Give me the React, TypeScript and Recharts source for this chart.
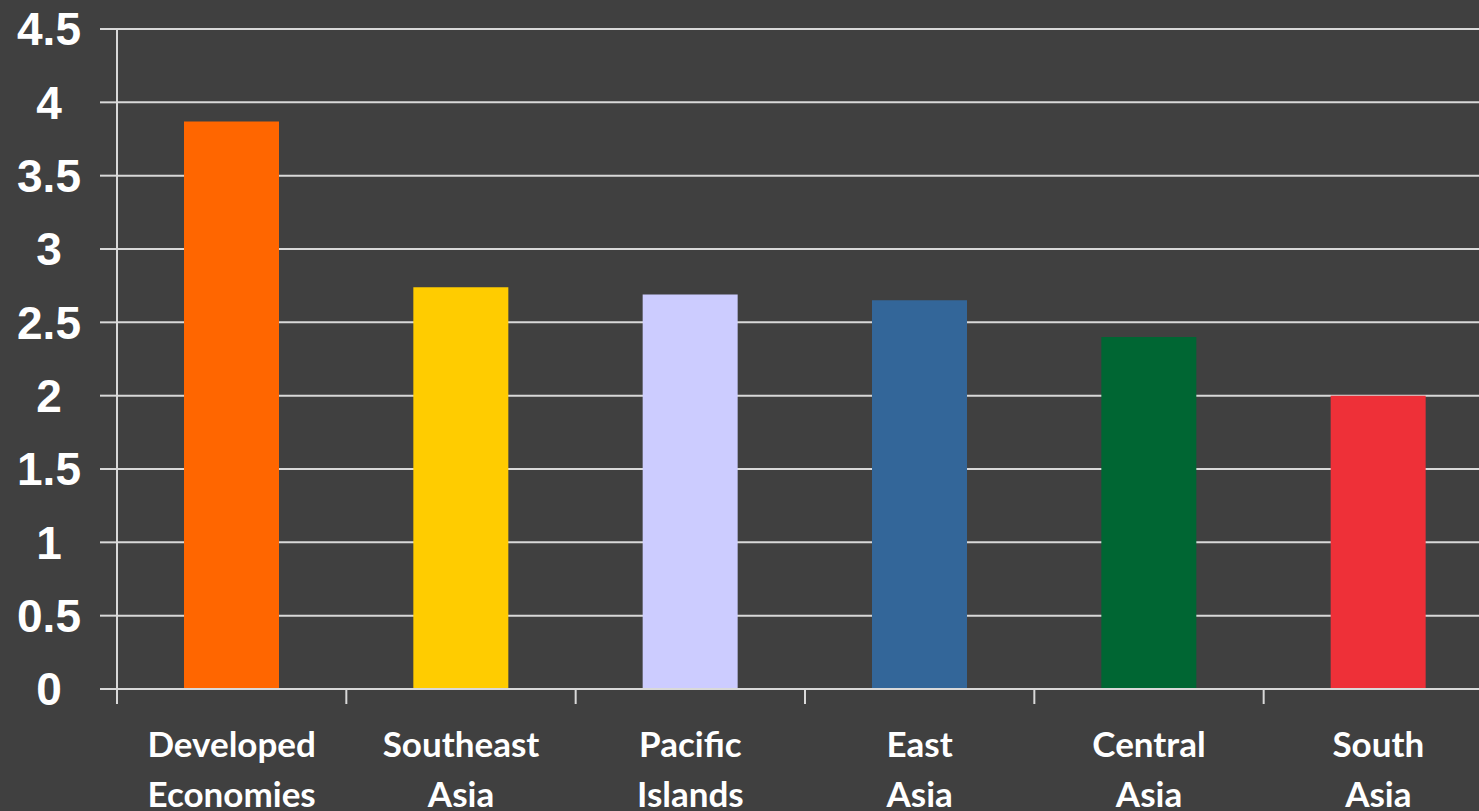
import React from 'react';
import { BarChart, Bar, XAxis, YAxis, CartesianGrid, Cell } from 'recharts';

// values
const regions = ['Developed Economies', 'Southeast Asia', 'Pacific Islands', 'East Asia', 'Central Asia', 'South Asia'];
const values = [3.87, 2.74, 2.69, 2.65, 2.4, 2.0];
const yTicks = [0, 0.5, 1, 1.5, 2, 2.5, 3, 3.5, 4, 4.5];

const barColors = ['#ff6600', '#ffcc00', '#ccccff', '#336699', '#006633', '#ee3038'];
const gridColor = '#d9d9d9';

const chartData = regions.map((name, i) => ({ name, value: values[i] }));

// label in two lines + a tick mark on the left edge of each category
const RegionTick = ({ x, y, payload, width, visibleTicksCount }: any) => {
    const [first, ...rest] = String(payload.value).split(' ');
    const half = payload.offset || (width && visibleTicksCount ? width / visibleTicksCount / 2 : 0);
    const last = payload.index === regions.length - 1;
    return (
        <g>
            <line x1={x - half} x2={x - half} y1={y} y2={y + 15} stroke={gridColor} strokeWidth={2} />
            {last && <line x1={x + half} x2={x + half} y1={y} y2={y + 15} stroke={gridColor} strokeWidth={2} />}
            <text
                x={x}
                y={y}
                textAnchor="middle"
                fill="#ffffff"
                fontFamily="Lato, 'Open Sans', sans-serif"
                fontWeight={700}
                fontSize={35}
            >
                <tspan x={x} dy={68}>{first}</tspan>
                <tspan x={x} dy={50}>{rest.join(' ')}</tspan>
            </text>
        </g>
    );
};

const App: React.FC = () => {
    return (
        <div
            style={{
                position: 'fixed',
                left: 0,
                top: 0,
                width: 1479,
                height: 811,
                overflow: 'hidden',
                background: '#404040',
            }}
        >
            <BarChart
                width={1493}
                height={811}
                data={chartData}
                margin={{ top: 29, right: 0, bottom: 0, left: 0 }}
            >
                <CartesianGrid vertical={false} stroke={gridColor} strokeWidth={2} />
                <XAxis
                    dataKey="name"
                    interval={0}
                    tickLine={false}
                    tickSize={0}
                    tickMargin={0}
                    axisLine={{ stroke: gridColor, strokeWidth: 2 }}
                    tick={<RegionTick />}
                    height={122}
                />
                <YAxis
                    domain={[0, 4.5]}
                    ticks={yTicks}
                    width={117}
                    tickSize={17}
                    tickMargin={51}
                    axisLine={{ stroke: gridColor, strokeWidth: 2 }}
                    tickLine={{ stroke: gridColor, strokeWidth: 2 }}
                    tick={{
                        fill: '#ffffff',
                        fontSize: 46,
                        fontWeight: 700,
                        fontFamily: "'Liberation Sans', Arial, sans-serif",
                        textAnchor: 'middle',
                    }}
                />
                <Bar dataKey="value" barSize={95} isAnimationActive={false}>
                    {chartData.map((d, i) => (
                        <Cell key={d.name} fill={barColors[i]} />
                    ))}
                </Bar>
            </BarChart>
        </div>
    );
};

export default App;
